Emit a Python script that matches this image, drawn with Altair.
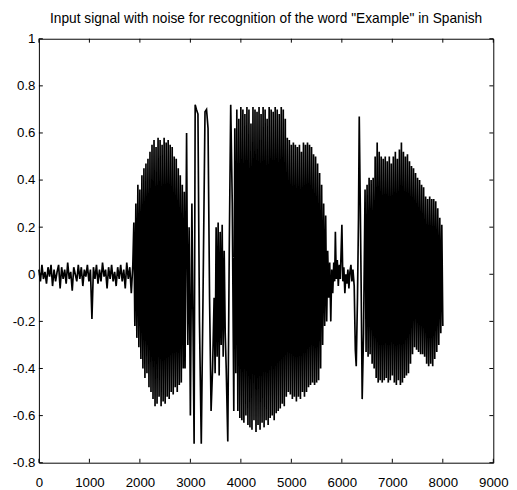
import altair as alt
import pandas as pd

TITLE = 'Input signal with noise for recognition of the word "Example" in Spanish'

x_ticks = [0, 1000, 2000, 3000, 4000, 5000, 6000, 7000, 8000, 9000]
y_ticks = [-0.8, -0.6, -0.4, -0.2, 0, 0.2, 0.4, 0.6, 0.8, 1]

# leading background noise: samples 0..1860, one value every 30 samples
noise1_start, noise1_step = 0, 30
noise1_y = [0.02, -0.03, 0.04, -0.02, 0.01, -0.04, 0.03, -0.01, 0.04, -0.05,
            0.02, -0.03, 0.01, 0.04, -0.06, 0.03, -0.02, 0.02, -0.04, 0.05,
            -0.02, 0.01, -0.07, 0.03, 0.00, -0.03, 0.04, -0.02, 0.03, -0.05,
            0.02, -0.01, 0.04, -0.03, 0.02, -0.19, 0.03, -0.02, 0.04, -0.04,
            0.02, -0.03, 0.05, -0.01, 0.02, -0.06, 0.03, -0.02, 0.04, -0.03,
            0.01, -0.05, 0.03, -0.02, 0.04, -0.03, 0.02, -0.06, 0.05, -0.02,
            0.03, -0.08, 0.04]

# first voiced burst: peaks every 20 samples from 1880
dense1_start, dense1_step = 1880, 20
dense1_y = [0.22, -0.22, 0.30, -0.27, 0.38, -0.31, 0.36, -0.36, 0.42, -0.40,
            0.45, -0.44, 0.47, -0.42, 0.49, -0.48, 0.52, -0.50, 0.55, -0.53,
            0.57, -0.56, 0.54, -0.55, 0.58, -0.52, 0.57, -0.56, 0.55, -0.54,
            0.58, -0.55, 0.56, -0.52, 0.57, -0.53, 0.55, -0.50, 0.54, -0.51,
            0.50, -0.48, 0.49, -0.50, 0.45, -0.47, 0.42, -0.46, 0.38, -0.40,
            0.35]

# slow large swings between the bursts
sparse_x = [2895, 2925, 2950, 2975, 3000, 3030, 3074, 3095, 3120, 3150,
            3180, 3216, 3250, 3290, 3320, 3350, 3380, 3410, 3440, 3470,
            3490, 3510, 3530, 3550, 3570, 3590, 3610, 3630, 3650, 3670,
            3690, 3710, 3741, 3770, 3799, 3830, 3860]
sparse_y = [-0.40, 0.60, -0.30, 0.20, -0.60, 0.30, -0.72, 0.72, 0.70, 0.68,
            -0.20, -0.72, -0.10, 0.69, 0.70, 0.62, -0.10, -0.58, -0.40, -0.10,
            -0.42, 0.20, -0.35, 0.22, -0.43, 0.18, -0.30, 0.21, -0.35, 0.10,
            -0.25, -0.40, -0.71, 0.10, 0.72, 0.30, -0.58]

# second (loudest) burst
dense2_start, dense2_step = 3880, 20
dense2_y = [0.62, -0.42, 0.70, -0.58, 0.66, -0.61, 0.71, -0.62, 0.70, -0.63,
            0.68, -0.60, 0.71, -0.64, 0.70, -0.65, 0.64, -0.66, 0.71, -0.62,
            0.70, -0.67, 0.69, -0.64, 0.71, -0.66, 0.68, -0.63, 0.71, -0.65,
            0.70, -0.62, 0.66, -0.64, 0.71, -0.61, 0.70, -0.60, 0.69, -0.62,
            0.71, -0.59, 0.70, -0.58, 0.68, -0.57, 0.71, -0.55, 0.70, -0.56,
            0.66, -0.52, 0.58, -0.50, 0.57, -0.51, 0.55, -0.53, 0.56, -0.52,
            0.55, -0.54, 0.54, -0.52, 0.55, -0.53, 0.52, -0.50, 0.56, -0.52,
            0.55, -0.50, 0.56, -0.48, 0.55, -0.47, 0.54, -0.46, 0.51, -0.47,
            0.50, -0.46, 0.47, -0.45, 0.43, -0.40, 0.38, -0.30, 0.30, -0.22,
            0.25]

# pause with noise and the onset spike
noise2_x = [5700, 5720, 5740, 5760, 5781, 5800, 5820, 5840, 5858, 5872,
            5890, 5910, 5930, 5950, 5970, 6001, 6020, 6040, 6060, 6080,
            6100, 6120, 6140, 6160, 6180, 6200, 6220, 6245, 6267, 6285,
            6310, 6330, 6345, 6365, 6385, 6403, 6430]
noise2_y = [-0.20, 0.10, -0.10, 0.05, -0.20, 0.02, -0.08, 0.05, -0.03, 0.18,
            -0.02, 0.06, -0.05, 0.04, -0.02, 0.21, -0.03, 0.03, -0.08, 0.00,
            -0.04, 0.02, -0.06, 0.01, 0.04, -0.03, 0.02, -0.05, -0.32, -0.39,
            -0.10, 0.24, 0.67, 0.30, -0.10, -0.53, -0.25]

# third burst
dense3_start, dense3_step = 6460, 20
dense3_y = [0.36, -0.33, 0.38, -0.35, 0.41, -0.34, 0.40, -0.38, 0.41, -0.40,
            0.50, -0.44, 0.56, -0.46, 0.52, -0.45, 0.50, -0.46, 0.49, -0.45,
            0.50, -0.44, 0.48, -0.46, 0.50, -0.45, 0.47, -0.43, 0.50, -0.46,
            0.52, -0.47, 0.49, -0.45, 0.53, -0.47, 0.56, -0.46, 0.52, -0.44,
            0.50, -0.43, 0.51, -0.42, 0.48, -0.38, 0.46, -0.34, 0.45, -0.31,
            0.43, -0.32, 0.41, -0.33, 0.40, -0.34, 0.38, -0.34, 0.37, -0.35,
            0.33, -0.38, 0.32, -0.39, 0.33, -0.38, 0.32, -0.39, 0.32, -0.36,
            0.31, -0.33, 0.28, -0.30, 0.24, -0.25, 0.21, -0.22]

rows = []


def add_regular(start, step, ys):
    for i, v in enumerate(ys):
        rows.append((start + step * i, v))


def add_pairs(xs, ys):
    for a, b in zip(xs, ys):
        rows.append((a, b))


add_regular(noise1_start, noise1_step, noise1_y)
add_regular(dense1_start, dense1_step, dense1_y)
add_pairs(sparse_x, sparse_y)
add_regular(dense2_start, dense2_step, dense2_y)
add_pairs(noise2_x, noise2_y)
add_regular(dense3_start, dense3_step, dense3_y)

df = pd.DataFrame(rows, columns=["n", "amp"])
df["k"] = range(len(df))

W, H = 463, 432
FONT = "Liberation Sans"
TICK = 4
LFS = 13.5

xs = alt.Scale(domain=[0, 9000], nice=False, zero=False)
ys = alt.Scale(domain=[-0.8, 1], nice=False, zero=False)

x_axis = alt.Axis(values=x_ticks, format="d", title=None, grid=False,
                  domain=False, ticks=False, tickSize=0, labelPadding=13,
                  labelFont=FONT, labelFontSize=LFS, labelColor="black",
                  labelFlush=False, labelOverlap=False)
y_axis = alt.Axis(values=y_ticks, format="~g",
                  labelExpr="replace(datum.label, '\u2212', '-')",
                  title=None, grid=False, domain=False, ticks=False,
                  tickSize=0, labelPadding=4, labelFont=FONT,
                  labelFontSize=LFS, labelColor="black",
                  labelFlush=False, labelOverlap=False)

line = alt.Chart(df).mark_line(color="black", strokeWidth=1.7).encode(
    x=alt.X("n:Q", scale=xs, axis=x_axis),
    y=alt.Y("amp:Q", scale=ys, axis=y_axis),
    order="k:Q",
)

xt = pd.DataFrame({"v": x_ticks})
yt = pd.DataFrame({"v": y_ticks})

xt_bottom = alt.Chart(xt).mark_rule(color="black", strokeWidth=1).encode(
    x=alt.X("v:Q", scale=xs, axis=x_axis), y=alt.value(H), y2=alt.value(H - TICK))
xt_top = alt.Chart(xt).mark_rule(color="black", strokeWidth=1).encode(
    x=alt.X("v:Q", scale=xs, axis=x_axis), y=alt.value(0), y2=alt.value(TICK))
yt_left = alt.Chart(yt).mark_rule(color="black", strokeWidth=1).encode(
    y=alt.Y("v:Q", scale=ys, axis=y_axis), x=alt.value(0), x2=alt.value(TICK))
yt_right = alt.Chart(yt).mark_rule(color="black", strokeWidth=1).encode(
    y=alt.Y("v:Q", scale=ys, axis=y_axis), x=alt.value(W), x2=alt.value(W - TICK))

chart = alt.layer(line, xt_bottom, xt_top, yt_left, yt_right).properties(
    width=W, height=H,
    title=alt.TitleParams(TITLE, font=FONT, fontSize=14, fontWeight="normal",
                          color="black", anchor="middle", offset=6,
                          frame="group"),
    autosize="none",
    padding={"left": 31.5, "top": 26.7, "right": 16, "bottom": 30},
    background="white",
).configure_view(stroke="black", strokeWidth=1)

chart.save("out.html", embed_options={"renderer": "svg", "actions": False})
